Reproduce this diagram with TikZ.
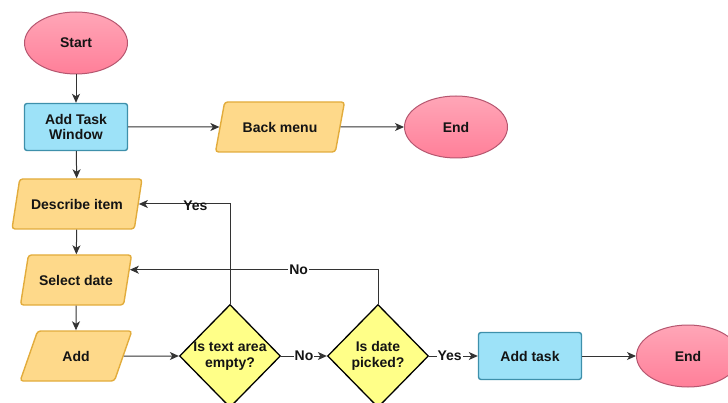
\documentclass[tikz,border=0pt]{standalone}
\usepackage{fontspec}
\setmainfont{Liberation Sans}
\usetikzlibrary{shapes.geometric,arrows.meta,calc}

\definecolor{termtop}{HTML}{FFA6B7}
\definecolor{termbot}{HTML}{FF7F99}
\definecolor{termline}{HTML}{B5566F}
\definecolor{procfill}{HTML}{9DE2F8}
\definecolor{procline}{HTML}{3E90AB}
\definecolor{iofill}{HTML}{FED98A}
\definecolor{ioline}{HTML}{E2AC3C}
\definecolor{decfill}{HTML}{FFFF88}
\definecolor{wire}{HTML}{333333}
\definecolor{ink}{HTML}{141414}

\tikzset{
  base/.style={font=\bfseries\fontsize{14}{15.5}\selectfont, text=ink, align=center},
  terminal/.style={base, ellipse, draw=termline, line width=1pt,
    top color=termtop, bottom color=termbot,
    minimum width=103pt, minimum height=62pt, inner sep=0pt},
  process/.style={base, rectangle, rounded corners=2.5pt, draw=procline, line width=1.4pt,
    fill=procfill, minimum width=103pt, minimum height=47pt, inner sep=0pt},
  iobox/.style={base, trapezium, trapezium left angle=59, trapezium right angle=121,
    trapezium stretches=true, rounded corners=3pt, draw=ioline, line width=1.4pt,
    fill=iofill, minimum width=#1, minimum height=50pt, inner sep=0pt},
  iobox/.default=130pt,
  decision/.style={diamond, draw=black, line width=1.3pt, fill=decfill,
    minimum width=101pt, minimum height=103pt, inner sep=0pt},
  dtext/.style={base},
  flow/.style={draw=wire, line width=1pt, -{Stealth[length=9pt,width=8pt,inset=2.5pt]}},
  tag/.style={base, inner sep=1pt},
}

\begin{document}
\begin{tikzpicture}[x=1pt,y=-1pt]
  \useasboundingbox (0,0) rectangle (728,403);
  \clip (0,0) rectangle (728,403);

  % top row
  \node[terminal] (start) at (76,43) {Start};
  \node[process] (win) at (76,127) {Add Task\\Window};
  \node[iobox] (back) at (280,127) {Back menu};
  \node[terminal] (end1) at (456,127) {End};

  % left column
  \node[iobox] (desc) at (77,204) {Describe item};
  \node[iobox=112pt] (date) at (76,280) {Select date};
  \node[iobox=112pt] (add) at (76,356) {Add};

  % decisions and the final step
  \node[decision, label={[dtext]center:Is text area\\empty?}] (q1) at (230,356) {};
  \node[decision, label={[dtext]center:Is date\\picked?}] (q2) at (378,356) {};
  \node[process] (task) at (530,356) {Add task};
  \node[terminal] (end2) at (688,356) {End};

  % entry point of the "No" loop, high on the right side of "Select date"
  \coordinate (dateIn) at ($(date.top right corner)!0.3!(date.bottom right corner)$);

  % connectors
  \draw[flow] (start) -- (win);
  \draw[flow] (win.east) -- (back.west);
  \draw[flow] (back.east) -- (end1.west);
  \draw[flow] (win) -- (desc);
  \draw[flow] (desc) -- (date);
  \draw[flow] (date) -- (add);
  \draw[flow] (add.east) -- (q1.west);
  \draw[flow] (q1.east) -- node[tag, fill=white] {No} (q2.west);
  \draw[flow] (q1.north) |- node[tag, pos=0.69, below=-5pt] {Yes} (desc.east);
  \draw[flow] (q2.north) |- node[tag, pos=0.66, fill=white] {No} (dateIn);
  \draw[flow] (q2.east) -- node[tag, fill=white, pos=0.42] {Yes} (task.west);
  \draw[flow] (task.east) -- (end2.west);
\end{tikzpicture}
\end{document}
